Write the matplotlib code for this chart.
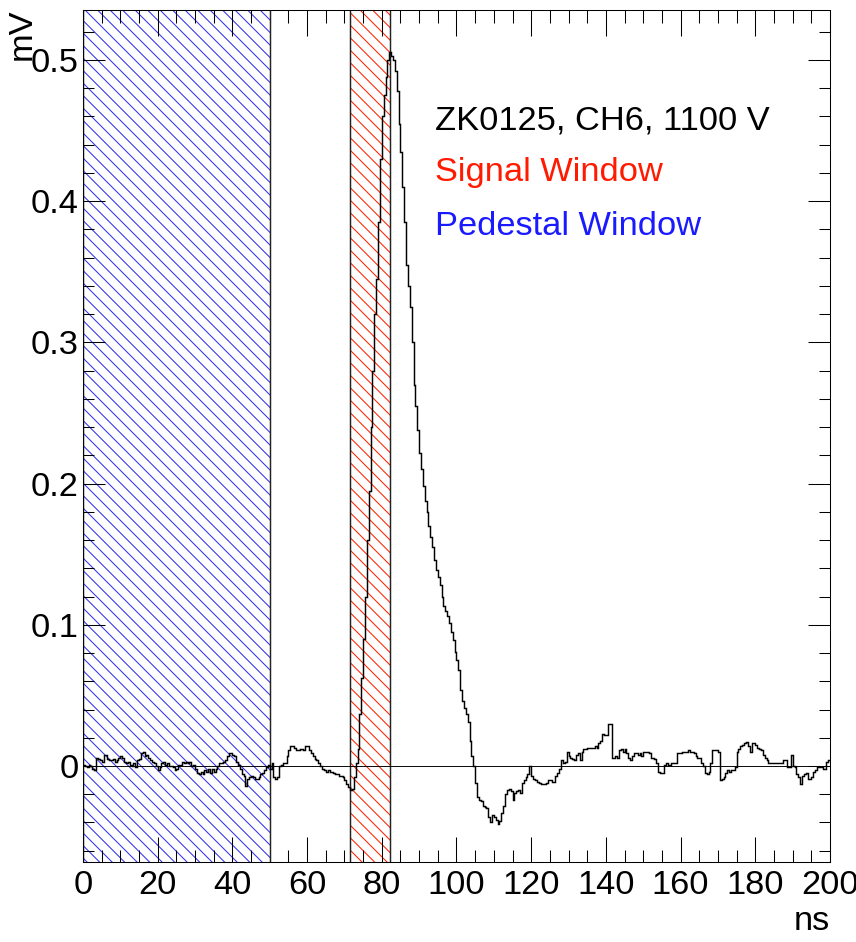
import numpy as np
import matplotlib
matplotlib.use("Agg")
import matplotlib.pyplot as plt
from matplotlib.ticker import MultipleLocator, FuncFormatter

plt.rcParams['font.family'] = ['Liberation Sans', 'DejaVu Sans']
plt.rcParams['hatch.linewidth'] = 1.0

# waveform, 0.5 ns bins from 0 to 200 ns (mV)
bin_width = 0.5
amplitude = [
    0.001, 0.000, -0.001, 0.001, 0.000, -0.002, -0.003, 0.006, 0.005, 0.004,
    0.003, 0.008, 0.008, 0.005, 0.004, 0.004, 0.005, 0.003, 0.004, 0.006,
    0.007, 0.006, 0.003, 0.002, 0.003, 0.001, 0.000, 0.002, -0.001, 0.004,
    0.005, 0.009, 0.010, 0.007, 0.008, 0.006, 0.004, 0.003, 0.002, 0.000,
    -0.003, -0.001, 0.002, 0.003, 0.001, 0.002, 0.000, 0.000, -0.001, -0.003,
    -0.002, 0.001, 0.001, 0.003, 0.002, 0.003, 0.002, 0.003, 0.000, 0.001,
    -0.002, -0.005, -0.006, -0.004, -0.006, -0.003, -0.004, -0.002, -0.005, -0.002,
    -0.004, -0.002, 0.000, 0.002, 0.002, 0.003, 0.004, 0.007, 0.009, 0.009,
    0.008, 0.007, 0.003, 0.001, -0.002, -0.006, -0.007, -0.014, -0.009, -0.008,
    -0.007, -0.008, -0.009, -0.009, -0.008, -0.006, -0.005, -0.003, -0.001, 0.001,
    -0.002, 0.002, -0.008, -0.009, -0.008, 0.000, 0.001, 0.002, 0.002, 0.007,
    0.011, 0.014, 0.014, 0.013, 0.011, 0.011, 0.012, 0.012, 0.011, 0.014,
    0.014, 0.011, 0.009, 0.007, 0.005, 0.004, 0.002, 0.000, -0.002, -0.003,
    -0.004, -0.003, -0.004, -0.004, -0.005, -0.006, -0.006, -0.007, -0.007, -0.008,
    -0.010, -0.013, -0.015, -0.017, -0.016, -0.008, 0.002, 0.012, 0.037, 0.062,
    0.090, 0.120, 0.160, 0.195, 0.240, 0.280, 0.320, 0.345, 0.385, 0.430,
    0.460, 0.475, 0.488, 0.500, 0.506, 0.503, 0.500, 0.492, 0.478, 0.455,
    0.435, 0.410, 0.385, 0.355, 0.340, 0.325, 0.300, 0.270, 0.255, 0.238,
    0.222, 0.210, 0.198, 0.188, 0.180, 0.170, 0.162, 0.155, 0.146, 0.139,
    0.134, 0.128, 0.120, 0.113, 0.110, 0.106, 0.101, 0.095, 0.089, 0.081,
    0.075, 0.068, 0.054, 0.046, 0.041, 0.037, 0.031, 0.018, 0.007, 0.000,
    -0.012, -0.022, -0.024, -0.025, -0.028, -0.029, -0.030, -0.036, -0.040, -0.035,
    -0.036, -0.038, -0.041, -0.039, -0.033, -0.028, -0.020, -0.017, -0.016, -0.018,
    -0.024, -0.019, -0.018, -0.017, -0.019, -0.012, -0.010, -0.008, -0.006, 0.000,
    -0.007, -0.009, -0.010, -0.011, -0.012, -0.013, -0.013, -0.013, -0.012, -0.010,
    -0.010, -0.011, -0.011, -0.007, -0.005, -0.002, 0.004, 0.002, 0.003, 0.010,
    0.007, 0.006, 0.005, 0.004, 0.008, 0.009, 0.004, 0.010, 0.012, 0.012,
    0.013, 0.013, 0.013, 0.013, 0.014, 0.013, 0.016, 0.018, 0.023, 0.022,
    0.022, 0.030, 0.030, 0.006, 0.006, 0.007, 0.006, 0.011, 0.012, 0.010,
    0.012, 0.009, 0.006, 0.004, 0.007, 0.009, 0.009, 0.008, 0.009, 0.007,
    0.010, 0.010, 0.010, 0.009, 0.006, 0.006, 0.005, 0.002, -0.004, -0.005,
    -0.005, 0.001, 0.002, 0.001, 0.001, 0.002, 0.002, 0.002, 0.009, 0.009,
    0.009, 0.010, 0.010, 0.010, 0.011, 0.010, 0.010, 0.009, 0.007, 0.006,
    0.006, 0.002, 0.000, -0.005, -0.006, -0.004, 0.002, 0.011, 0.011, 0.011,
    0.010, -0.010, -0.009, -0.008, -0.005, -0.003, -0.004, -0.003, -0.003, -0.001,
    0.010, 0.012, 0.014, 0.015, 0.016, 0.017, 0.014, 0.010, 0.016, 0.016,
    0.015, 0.013, 0.012, 0.011, 0.008, 0.006, 0.004, 0.002, 0.002, 0.002,
    0.002, 0.002, 0.002, 0.002, 0.002, 0.004, 0.004, -0.001, -0.001, 0.008,
    0.000, -0.001, -0.006, -0.008, -0.013, -0.007, -0.006, -0.005, -0.009, -0.009,
    -0.008, -0.004, -0.003, -0.001, -0.001, -0.001, -0.002, -0.002, 0.003, 0.004,
]

pedestal_window = (0, 50)
signal_window = (71.5, 82.2)
labels = ["ZK0125, CH6, 1100 V", "Signal Window", "Pedestal Window"]
label_colors = ["black", "#ff1a00", "#1a1aff"]

edges = np.arange(len(amplitude) + 1) * bin_width

dpi = 75
fig = plt.figure(figsize=(857 / dpi, 942 / dpi), dpi=dpi)
ax = fig.add_axes([83 / 857, 1 - 862 / 942, 747 / 857, 852 / 942])

# hatched windows
ax.axvspan(*pedestal_window, fill=False, hatch='\\\\', edgecolor='#3333ee', lw=0, zorder=1)
ax.axvspan(*signal_window, fill=False, hatch='\\\\', edgecolor='#ff2200', lw=0, zorder=1)
for xv in (*pedestal_window, *signal_window):
    ax.axvline(xv, color='#222222', lw=1.4, zorder=2)

ax.axhline(0, color='black', lw=0.9, zorder=2)
ax.stairs(amplitude, edges, baseline=None, color='black', lw=1.4, zorder=3)

ax.set_xlim(0, 200)
ax.set_ylim(-0.068, 0.5354)

ax.xaxis.set_major_locator(MultipleLocator(20))
ax.xaxis.set_minor_locator(MultipleLocator(5))
ax.yaxis.set_major_locator(MultipleLocator(0.1))
ax.yaxis.set_minor_locator(MultipleLocator(0.02))
ax.yaxis.set_major_formatter(FuncFormatter(lambda v, _: f"{round(v, 3):g}"))

px = 72 / dpi
ax.tick_params(which='both', direction='in', top=True, right=True,
               width=1.0, color='black', labelsize=33)
ax.tick_params(axis='x', which='major', length=25.5 * px, pad=8)
ax.tick_params(axis='x', which='minor', length=12.5 * px)
ax.tick_params(axis='y', which='major', length=22.5 * px, pad=4)
ax.tick_params(axis='y', which='minor', length=11 * px)
for s in ax.spines.values():
    s.set_linewidth(1.0)

fig.text(22 / 857, 1 - 8 / 942, "mV", rotation=90, ha='center', va='top', fontsize=33)
fig.text(830 / 857, 1 - 930 / 942, "ns", ha='right', va='baseline', fontsize=33)

for txt, col, yb in zip(labels, label_colors, (130, 181, 235)):
    ax.text(435 / 857, 1 - yb / 942, txt, color=col, fontsize=33,
            transform=fig.transFigure, ha='left', va='baseline')

fig.savefig("out.png", dpi=dpi)
